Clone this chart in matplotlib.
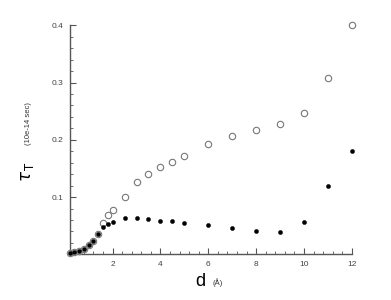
import matplotlib
matplotlib.use("Agg")
import matplotlib.pyplot as plt
from matplotlib.ticker import FixedLocator, MultipleLocator

plt.rcParams['font.family'] = ['Liberation Sans', 'DejaVu Sans']

d_open = [0.2, 0.4, 0.6, 0.8, 1.0, 1.2, 1.4, 1.6, 1.8, 2.0, 2.5, 3.0, 3.5, 4.0, 4.5, 5.0, 6, 7, 8, 9, 10, 11, 12]
tau_open = [0.003, 0.004, 0.006, 0.010, 0.016, 0.024, 0.035, 0.055, 0.069, 0.077, 0.100, 0.127, 0.140, 0.152,
            0.161, 0.171, 0.193, 0.206, 0.217, 0.227, 0.247, 0.308, 0.400]
d_fill = [0.2, 0.4, 0.6, 0.8, 1.0, 1.2, 1.4, 1.6, 1.8, 2.0, 2.5, 3.0, 3.5, 4.0, 4.5, 5.0, 6, 7, 8, 9, 10, 11, 12]
tau_fill = [0.003, 0.004, 0.006, 0.010, 0.016, 0.024, 0.035, 0.048, 0.053, 0.057, 0.063, 0.063, 0.062, 0.059,
            0.058, 0.055, 0.051, 0.046, 0.041, 0.039, 0.057, 0.119, 0.180]
x_ticks = [2, 4, 6, 8, 10, 12]
y_ticks = [0.1, 0.2, 0.3, 0.4]

fig = plt.figure(figsize=(3.91, 3.00), dpi=100)
ax = fig.add_axes([0.179, 0.152, 0.721, 0.764])

ax.plot(d_open, tau_open, linestyle='none', marker='o', markersize=4.6,
        markerfacecolor='white', markeredgecolor='#777777', markeredgewidth=0.8, zorder=3, clip_on=False)
ax.plot(d_fill, tau_fill, linestyle='none', marker='o', markersize=3.0,
        markerfacecolor='black', markeredgecolor='black', markeredgewidth=0.3, zorder=4, clip_on=False)

ax.set_xlim(0.22, 12)
ax.set_ylim(0, 0.4)
for s in ['top', 'right']:
    ax.spines[s].set_visible(False)
for s in ['left', 'bottom']:
    ax.spines[s].set_color('#555555')
    ax.spines[s].set_linewidth(1.0)

ax.xaxis.set_major_locator(FixedLocator(x_ticks))
ax.yaxis.set_major_locator(FixedLocator(y_ticks))
ax.xaxis.set_minor_locator(MultipleLocator(0.4))
ax.yaxis.set_minor_locator(MultipleLocator(0.02))
ax.set_xticklabels([str(v) for v in x_ticks])
ax.set_yticklabels([str(v) for v in y_ticks])
ax.tick_params(which='both', direction='in', color='#555555', labelsize=6, labelcolor='#444444')
ax.tick_params(which='major', length=4, width=0.8, pad=5)
ax.tick_params(which='minor', length=2, width=0.6)

fig.text(200 / 391, 1 - 282 / 300, 'd', fontsize=13, ha='center', va='center', color='black')
fig.text(218 / 391, 1 - 283 / 300, '(Å)', fontsize=5.5, ha='center', va='center', color='#333333')
fig.text(27 / 391, 1 - 171 / 300, r'$\tau_{\,\mathrm{T}}$', fontsize=12, ha='center', va='center', rotation=90)
fig.text(29 / 391, 1 - 124 / 300, '(10e-14 sec)', fontsize=5.5, ha='center', va='center', rotation=90, color='#333333')

fig.savefig('out.png', dpi=100)
